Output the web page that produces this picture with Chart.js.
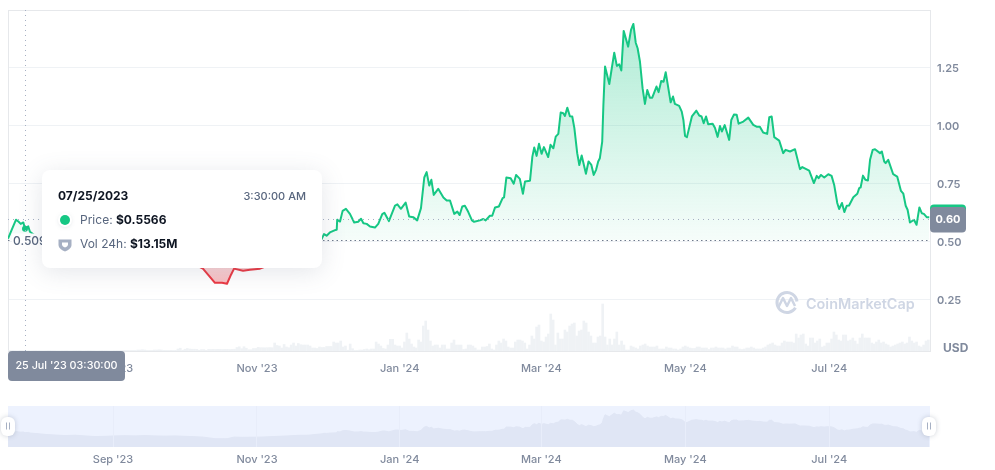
<!DOCTYPE html>
<html>
<head>
<meta charset="utf-8">
<title>Price chart</title>
<script src="https://cdn.jsdelivr.net/npm/chart.js@4"></script>
<style>
  html, body { margin: 0; padding: 0; background: #fff; font-family: Inter, sans-serif; }
  #wrap { position: relative; width: 995px; height: 470px; overflow: hidden; }
  canvas { position: absolute; left: 0; }
  #tip {
    position: absolute; left: 42px; top: 170px; width: 280px; height: 98px; box-sizing: border-box;
    background: #fff; border-radius: 8px; box-shadow: 0 4px 24px rgba(88, 102, 126, .16);
    color: #58667e; font-size: 12px;
  }
  #tip div { position: absolute; white-space: nowrap; line-height: 16px; }
  #tip b { color: #0d1421; font-weight: 700; }
  #tip .dot { width: 10px; height: 10px; border-radius: 5px; background: #16c784; left: 18px; top: 45px; box-shadow: 0 0 0 2px #fff, 0 1px 5px rgba(88, 102, 126, .35); }
  #tip svg { position: absolute; left: 16px; top: 67px; }
</style>
</head>
<body>
<div id="wrap">
  <canvas id="main" width="995" height="385" style="top:0;width:995px;height:385px"></canvas>
  <canvas id="nav" width="995" height="75" style="top:395px;width:995px;height:75px"></canvas>
  <div id="tip">
    <div style="left:16px;top:18px;color:#0d1421;font-weight:700">07/25/2023</div>
    <div style="right:16px;top:18px;font-weight:500;font-size:11px">3:30:00 AM</div>
    <div class="dot"></div>
    <div style="left:38px;top:42px">Price: <b>$0.5566</b></div>
    <svg width="14" height="16" viewBox="0 0 14 16"><path d="M0.5 2.5 H13.5 V8 C13.5 11 10 13.5 7 14.5 C4 13.5 0.5 11 0.5 8 Z" fill="#a6b0c3"/><path d="M4 5.5 H10 V7.5 C10 9 8.3 10 7 10.5 C5.7 10 4 9 4 7.5 Z" fill="#fff"/></svg>
    <div style="left:38px;top:66px">Vol 24h: <b>$13.15M</b></div>
  </div>
</div>
<script>
// days since the left edge of the chart (18 Jul 2023)
const priceDays = [
  0, 1.6, 3.4, 4.4, 5.4, 6.5, 7.2, 8.6, 9.3, 12.7, 16.1, 19.9, 24.2, 28.4, 32.6, 36.9, 41.1, 45.3, 49.6, 53.8,
  58.1, 62.3, 66.5, 70.8, 75, 79.2, 82.6, 85.2, 87.7, 90.7, 92.8, 94.5, 95.8, 99.6, 102.5, 106.8, 110.2, 114.4, 118.6, 122.9,
  127.1, 130.5, 132.6, 133.3, 133.9, 135, 136.4, 138.6, 139.3, 139.5, 140.7, 141.8, 143.2, 144.9, 146.7, 148.4, 149.6, 150.6, 152, 153.4,
  155.5, 156.9, 158.6, 159.5, 161.4, 164, 165, 166.5, 168.5, 170, 171.7, 173.4, 175, 176.4, 177.4, 178.5, 179.4, 180.4, 182.3, 184.5,
  185.9, 187.3, 189.1, 190.4, 191.4, 192.5, 193.6, 195, 196.6, 197.5, 200, 201.4, 202.4, 204.2, 205.2, 206.4, 208, 209.6, 210.2, 211.2,
  213, 214.3, 215.3, 216.9, 218.2, 219.1, 221.2, 222.2, 223, 224, 225, 226.1, 227.1, 228.9, 229.9, 231.1, 232.1, 233.2, 234.2, 235.3,
  236, 237, 238.1, 239.1, 240, 241.2, 242.1, 243.1, 244.9, 246, 247.2, 248.2, 249.2, 250.1, 250.8, 251.8, 252.3, 253, 254.8, 256.9,
  258, 259, 259.9, 260.9, 262.8, 264, 265, 266, 266.8, 267.8, 268.9, 269.9, 270.9, 272, 273, 274.8, 275.7, 276.8, 277.8, 278.7,
  280.8, 281.8, 282.6, 284.4, 285.5, 286.2, 286.9, 287.7, 289.8, 291.7, 292.9, 293.9, 294.8, 295.8, 296.7, 298.6, 299.6, 300.7, 301.7, 302.5,
  303.7, 305.6, 306.5, 307.6, 308.8, 309.6, 311.6, 313.7, 315.8, 317.2, 318.6, 320, 321.7, 322.6, 323.6, 324.7, 326.8, 328.5, 329.5, 331.4,
  333.5, 335.6, 336.6, 339.5, 341.5, 342.7, 343.5, 344.5, 345.9, 347.6, 349, 350.1, 351.4, 352.2, 353.4, 354.4, 355.4, 356.4, 358.2, 359.9,
  360.7, 361.3, 362.3, 363.3, 364.4, 365.3, 366.4, 367.4, 369.5, 370.3, 371.3, 371.9, 373, 375.1, 376.8, 378.4, 379.4, 380.4, 381.2, 382.2,
  383.9, 385, 386.2, 387.2, 388.1, 389.3, 390.4
];
const priceValues = [
  .514, .553, .596, .588, .578, .584, .5566, .567, .544, .518, .488, .466, .445, .458, .432, .406, .415, .432, .441, .432,
  .445, .432, .423, .432, .415, .402, .385, .354, .324, .324, .320, .359, .385, .376, .380, .385, .398, .415, .432, .454,
  .458, .492, .507, .521, .534, .527, .541, .551, .553, .596, .588, .634, .643, .621, .584, .587, .600, .581, .578, .567,
  .562, .578, .620, .626, .590, .657, .662, .643, .670, .610, .607, .593, .646, .778, .801, .743, .768, .703, .729, .692,
  .679, .679, .621, .631, .616, .653, .656, .630, .593, .587, .593, .599, .593, .613, .613, .649, .653, .689, .692, .778,
  .775, .751, .789, .772, .708, .761, .764, .868, .907, .871, .923, .880, .909, .866, .919, .904, .954, .966, 1.058, 1.055,
  1.043, 1.079, 1.042, 1.041, .991, .883, .832, .873, .794, .847, .832, .789, .811, .847, .861, .933, 1.091, 1.256, 1.181, 1.316,
  1.259, 1.266, 1.239, 1.410, 1.342, 1.414, 1.440, 1.359, 1.335, 1.277, 1.163, 1.095, 1.155, 1.122, 1.122, 1.170, 1.146, 1.194, 1.191, 1.232,
  1.102, 1.127, 1.095, 1.087, 1.062, 1.026, .957, .952, 1.041, 1.066, 1.045, 1.041, 1.012, 1.041, 1.008, 1.010, .991, .953, 1.000, .976,
  1.004, .940, 1.026, 1.049, 1.048, 1.010, 1.019, 1.036, 1.005, .997, .997, .972, .966, 1.038, 1.041, .952, .937, .883, .897, .890,
  .900, .814, .823, .808, .754, .785, .775, .789, .778, .792, .785, .746, .668, .642, .668, .629, .656, .657, .693, .708,
  .732, .735, .786, .768, .765, .854, .897, .900, .883, .890, .847, .840, .854, .792, .782, .720, .708, .656, .639, .584,
  .596, .574, .649, .624, .621, .607, .607
];
// 24h volume in $M, one value per day from day 0
const volumes = [
  10, 12, 14, 11, 9, 13, 12, 13, 10, 8, 9, 11, 12, 10, 9, 8, 10, 12, 14, 11, 10, 9, 8, 10, 11, 12, 9, 8, 10, 13, 12, 10, 9, 11, 12, 14, 10, 9, 8, 10, 12, 11, 10, 9, 8, 10, 12, 11, 9, 10, 11, 10,
  10, 10, 10, 20, 20, 26, 20, 10, 10, 10, 20, 20, 24, 20, 10, 10, 10, 12, 10, 12, 40, 56, 16, 36, 50, 40, 36, 36, 32, 16, 28, 28, 12, 32, 30, 32, 30, 34, 32, 30, 32, 34, 30, 32, 36, 70, 84, 46, 86, 56, 26, 26, 50, 50, 72,
  66, 66, 64, 66, 68, 66, 160, 110, 100, 60, 130, 80, 66, 120, 160, 100, 150, 126, 120, 120, 120, 100, 60, 60, 50, 80, 70, 70, 90, 90, 90, 180, 160, 160, 200, 80, 100, 16, 140, 46, 10, 10, 20, 20, 30, 40, 26, 40, 40, 180, 140, 100, 50, 40, 120,
  234, 234, 120, 100, 100, 60, 180, 360, 240, 140, 80, 60, 220, 180, 500, 600, 420, 200, 100, 120, 120, 60, 120, 120, 40, 40, 160, 220, 120, 120, 120, 30, 40, 120, 120, 100, 60, 20, 20, 80, 80, 90, 140, 40, 20, 120, 200, 160, 240, 200, 80, 60, 60, 180, 220, 220, 200, 160, 40, 120, 300, 240, 480, 520, 200, 180, 280, 340, 740, 620, 120, 360, 240, 240, 420, 380, 500, 540, 560, 300, 400, 420, 600, 560, 380, 300, 160, 160, 280, 300, 940, 280, 120, 240, 120, 240, 380, 120, 200, 120, 20, 20, 100, 80, 60, 40, 100, 120, 140, 100, 80, 80, 80, 100, 40, 40, 40, 80, 60, 60, 40, 40, 20,
  40, 80, 100, 80, 60, 50, 50, 80, 80, 60, 60, 60, 30, 60, 60, 80, 60, 60, 60, 40, 60, 60, 100, 80, 80, 40, 30, 40, 60, 60, 80, 60, 40, 40, 40, 60, 80, 120, 140, 160, 120, 100, 100, 160, 200, 180, 180, 180, 160, 340, 260,
  320, 340, 140, 100, 260, 260, 160, 200, 240, 80, 100, 160, 160, 240, 380, 320, 220, 200, 320, 320, 200, 220, 260, 200, 140, 260, 340, 260, 260, 260, 160, 140, 180, 220, 160, 180, 140, 120, 80, 100, 120, 140, 160, 180, 140, 160, 280, 200, 160, 180, 100, 80, 120, 200, 220
];
const tickDays = [44.5, 105.5, 166, 226, 287, 348];
const tickLabels = ["Sep '23", "Nov '23", "Jan '24", "Mar '24", "May '24", "Jul '24"];
const priceTicks = [0.25, 0.5, 0.75, 1, 1.25];

const baseline = 0.509;
const lastPrice = 0.6;
const hoverDay = 7.2;
const green = '#16c784';
const red = '#ea3943';
const gridColor = '#eff2f5';
const labelColor = '#808a9d';

const pricePoints = priceDays.map((d, i) => ({ x: d, y: priceValues[i] }));
const volPoints = volumes.map((v, i) => ({ x: i, y: v }));

const mainCtx = document.getElementById('main').getContext('2d');
const aboveFill = mainCtx.createLinearGradient(0, 10, 0, 240);
aboveFill.addColorStop(0, 'rgba(22, 199, 132, 0.36)');
aboveFill.addColorStop(1, 'rgba(22, 199, 132, 0.04)');
const belowFill = mainCtx.createLinearGradient(0, 240, 0, 290);
belowFill.addColorStop(0, 'rgba(234, 57, 67, 0.04)');
belowFill.addColorStop(1, 'rgba(234, 57, 67, 0.38)');

function roundBox(ctx, x, y, w, h, r, color) {
  ctx.fillStyle = color;
  ctx.beginPath();
  ctx.roundRect(x, y, w, h, r);
  ctx.fill();
}

// lines, price badges and watermark that chart.js has no option for
const overlayPlugin = {
  id: 'overlay',
  beforeDatasetsDraw(chart) {
    const { ctx, chartArea: a, scales } = chart;
    ctx.save();
    ctx.strokeStyle = '#e6e8eb';
    ctx.lineWidth = 1;
    ctx.beginPath();
    ctx.moveTo(a.left + .5, a.top + .5);
    ctx.lineTo(a.right, a.top + .5);
    ctx.moveTo(a.left + .5, a.top);
    ctx.lineTo(a.left + .5, a.bottom);
    ctx.moveTo(a.left, a.bottom + .5);
    ctx.lineTo(a.right, a.bottom + .5);
    ctx.stroke();
    // watermark
    ctx.strokeStyle = '#cfd6e4';
    ctx.lineWidth = 3;
    ctx.beginPath();
    ctx.arc(787, 302.5, 10, 0.55, Math.PI * 2 - 0.1);
    ctx.stroke();
    ctx.lineWidth = 2.5;
    ctx.lineJoin = 'round';
    ctx.beginPath();
    ctx.moveTo(778, 308);
    ctx.lineTo(783, 298);
    ctx.lineTo(787, 306);
    ctx.lineTo(791, 298);
    ctx.lineTo(795, 306);
    ctx.stroke();
    ctx.fillStyle = '#cfd6e4';
    ctx.font = '600 14.4px Inter, sans-serif';
    ctx.textAlign = 'left';
    ctx.textBaseline = 'middle';
    ctx.fillText('CoinMarketCap', 806, 304.5);
    ctx.restore();
  },
  afterDatasetsDraw(chart) {
    const { ctx, chartArea: a, scales } = chart;
    const yLast = Math.round(scales.y.getPixelForValue(lastPrice)) + .5;
    const yBase = Math.round(scales.y.getPixelForValue(baseline)) + .5;
    const xHover = Math.round(scales.x.getPixelForValue(hoverDay)) + .5;
    ctx.save();
    ctx.lineWidth = 1;
    ctx.setLineDash([1, 4]);
    ctx.strokeStyle = '#a6b0c3';
    ctx.beginPath();
    ctx.moveTo(a.left, yLast);
    ctx.lineTo(a.right, yLast);
    ctx.stroke();
    ctx.beginPath();
    ctx.moveTo(xHover, a.top);
    ctx.lineTo(xHover, a.bottom);
    ctx.stroke();
    ctx.setLineDash([1.5, 3]);
    ctx.strokeStyle = '#6f7a8c';
    ctx.beginPath();
    ctx.moveTo(a.left, yBase);
    ctx.lineTo(a.right, yBase);
    ctx.stroke();
    ctx.setLineDash([]);

    ctx.font = '500 12px Inter, sans-serif';
    ctx.textBaseline = 'middle';
    ctx.textAlign = 'left';
    ctx.fillStyle = '#fff';
    ctx.fillRect(a.left + 4, yBase - 7, 32, 14);
    ctx.fillStyle = '#58667e';
    ctx.fillText(baseline.toFixed(3), a.left + 5, yBase + 1);

    // last price badge
    roundBox(ctx, a.right, yLast - 15, 36, 14, 4, green);
    roundBox(ctx, a.right, yLast - 12.5, 36, 25.5, 4, labelColor);
    ctx.font = '700 11px Inter, sans-serif';
    ctx.textAlign = 'center';
    ctx.fillStyle = '#fff';
    ctx.fillText(lastPrice.toFixed(2), a.right + 18, yLast + .5);

    ctx.font = '700 12px Inter, sans-serif';
    ctx.fillStyle = labelColor;
    ctx.textAlign = 'left';
    ctx.fillText('USD', a.right + 13, a.bottom - 2.5);

    // hovered time badge
    roundBox(ctx, a.left, a.bottom, 117, 30, 4, labelColor);
    ctx.font = '500 10.8px Inter, sans-serif';
    ctx.fillStyle = '#fff';
    ctx.textAlign = 'center';
    ctx.fillText("25 Jul '23 03:30:00", a.left + 58.5, a.bottom + 15);
    ctx.restore();
  }
};

new Chart(mainCtx, {
  type: 'bar',
  data: {
    datasets: [
      {
        type: 'line',
        data: pricePoints,
        parsing: false,
        yAxisID: 'y',
        order: 1,
        borderColor: green,
        borderWidth: 2,
        borderJoinStyle: 'round',
        tension: 0,
        pointRadius: ctx => (ctx.parsed.x === hoverDay ? 3 : 0),
        pointBackgroundColor: green,
        pointBorderWidth: 0,
        fill: { target: { value: baseline }, above: aboveFill, below: belowFill },
        segment: {
          borderColor: ctx => (ctx.p0.parsed.y < baseline && ctx.p1.parsed.y < baseline ? red : green)
        }
      },
      {
        data: volPoints,
        parsing: false,
        yAxisID: 'yVol',
        order: 2,
        backgroundColor: gridColor,
        barThickness: 2
      }
    ]
  },
  options: {
    responsive: false,
    animation: false,
    layout: { padding: { left: 8, top: 10 } },
    plugins: { legend: { display: false }, tooltip: { enabled: false } },
    events: [],
    scales: {
      x: {
        type: 'linear',
        offset: false,
        min: 0,
        max: 390.7,
        afterFit: s => { s.height = 34; },
        afterBuildTicks: s => { s.ticks = tickDays.map(v => ({ value: v })); },
        grid: { display: false },
        border: { display: false },
        ticks: {
          autoSkip: false,
          maxRotation: 0,
          padding: 3,
          color: labelColor,
          font: { family: 'Inter', size: 11, weight: '500' },
          callback: v => tickLabels[tickDays.indexOf(v)]
        }
      },
      y: {
        position: 'right',
        min: 0.03,
        max: 1.5,
        afterFit: s => { s.width = 65; s.paddingTop = 0; s.paddingBottom = 0; },
        afterBuildTicks: s => { s.ticks = priceTicks.map(v => ({ value: v })); },
        grid: { color: gridColor, drawTicks: false },
        border: { color: '#e6e8eb' },
        ticks: {
          padding: 7,
          labelOffset: 1,
          color: labelColor,
          font: { family: 'Inter', size: 11, weight: '600' },
          callback: v => v.toFixed(2)
        }
      },
      yVol: { display: false, min: 0, max: 6820 }
    }
  },
  plugins: [overlayPlugin]
});

// navigator strip below the main chart
const navPlugin = {
  id: 'navDecor',
  beforeDraw(chart) {
    const { ctx, chartArea: a } = chart;
    ctx.fillStyle = 'rgb(237, 242, 254)';
    ctx.fillRect(a.left, a.top, a.width, a.height);
  },
  afterDraw(chart) {
    const { ctx, chartArea: a, scales } = chart;
    const cy = (a.top + a.bottom) / 2 + 0;
    [scales.x.getPixelForValue(0), scales.x.getPixelForValue(390.7) - 1].forEach(x => {
      ctx.save();
      ctx.shadowColor = 'rgba(88, 102, 126, .3)';
      ctx.shadowBlur = 5;
      roundBox(ctx, x - 7, cy - 9.5, 14, 19, 6, '#fff');
      ctx.restore();
      ctx.fillStyle = '#a6b0c3';
      ctx.fillRect(x - 2, cy - 4, 1, 7);
      ctx.fillRect(x + 1, cy - 4, 1, 7);
    });
  }
};

new Chart(document.getElementById('nav').getContext('2d'), {
  type: 'line',
  data: {
    datasets: [{
      data: pricePoints,
      parsing: false,
      borderColor: 'rgb(224, 230, 245)',
      borderWidth: 1,
      backgroundColor: 'rgb(224, 230, 245)',
      pointRadius: 0,
      tension: 0,
      fill: 'origin'
    }]
  },
  options: {
    responsive: false,
    animation: false,
    events: [],
    layout: { padding: { left: 8, top: 11 } },
    plugins: { legend: { display: false }, tooltip: { enabled: false } },
    scales: {
      x: {
        type: 'linear',
        min: 0,
        max: 390.7,
        afterFit: s => { s.height = 23; },
        afterBuildTicks: s => { s.ticks = tickDays.map(v => ({ value: v })); },
        grid: { color: 'rgb(232, 237, 250)', drawTicks: false, z: 1 },
        border: { display: false },
        ticks: {
          autoSkip: false,
          maxRotation: 0,
          padding: 6,
          color: labelColor,
          font: { family: 'Inter', size: 11, weight: '500' },
          callback: v => tickLabels[tickDays.indexOf(v)]
        }
      },
      y: {
        position: 'right',
        min: 0,
        max: 1.6,
        afterFit: s => { s.width = 65; },
        ticks: { display: false },
        grid: { display: false },
        border: { display: false }
      }
    }
  },
  plugins: [navPlugin]
});
</script>
</body>
</html>
